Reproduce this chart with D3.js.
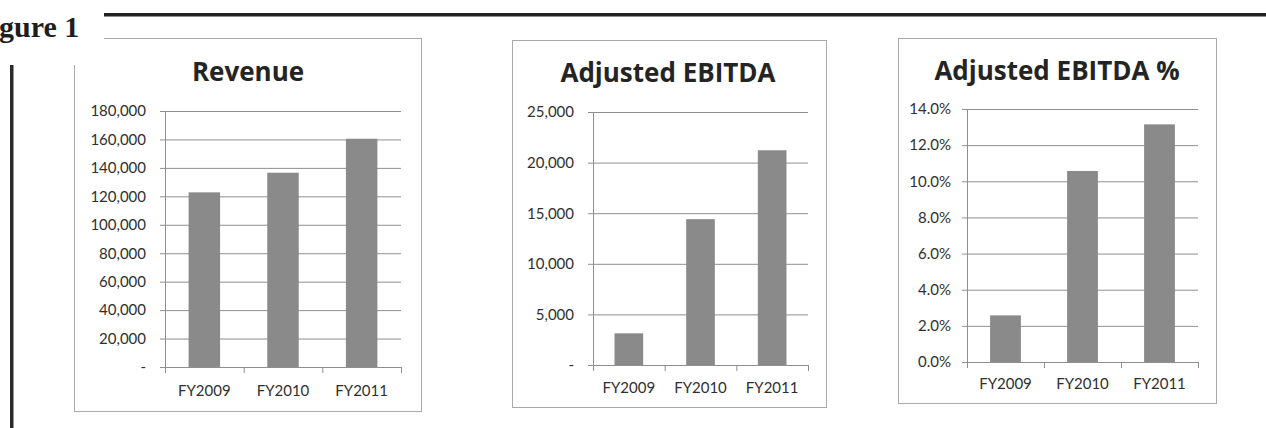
<!DOCTYPE html>
<html>
<head>
<meta charset="utf-8">
<script src="https://cdn.jsdelivr.net/npm/d3@7"></script>
<style>
  body { margin: 0; background: #fff; }
  svg { display: block; }
</style>
</head>
<body>
<svg id="fig" width="1266" height="428"></svg>
<script>
const years = ['FY2009', 'FY2010', 'FY2011'];
const revenue = [122800, 136600, 160500];
const ebitda = [3130, 14410, 21220];
const ebitdaPct = [0.0258, 0.1057, 0.1315];
const revenueTicks = [0, 20000, 40000, 60000, 80000, 100000, 120000, 140000, 160000, 180000];
const ebitdaTicks = [0, 5000, 10000, 15000, 20000, 25000];
const pctTicks = [0, 0.02, 0.04, 0.06, 0.08, 0.10, 0.12, 0.14];

const svg = d3.select('#fig');
const fmtNum = d => d === 0 ? '-' : d3.format(',')(d);
const fmtPct = d => d3.format('.1%')(d);

// page furniture
svg.append('text').text('gure 1')
  .attr('x', -1).attr('y', 37)
  .attr('font-family', '"Liberation Serif", serif')
  .attr('font-weight', 'bold').attr('font-size', 30).attr('fill', '#1e1e1e');
svg.append('rect').attr('x', 104).attr('y', 13).attr('width', 1162).attr('height', 3.5).attr('fill', '#222');
svg.append('rect').attr('x', 10).attr('y', 65).attr('width', 3.5).attr('height', 363).attr('fill', '#2a2a2a');

const charts = [
  { title: 'Revenue', values: revenue, ticks: revenueTicks, max: 180000, fmt: fmtNum, pad: 19,
    box: { x: 74, y: 38, r: 421, b: 411, topFrom: 104, leftFrom: 65 },
    plot: { x: 165, r: 401, top: 111, bottom: 367 }, titleX: 248, titleY: 81, catY: 396 },
  { title: 'Adjusted EBITDA', values: ebitda, ticks: ebitdaTicks, max: 25000, fmt: fmtNum, pad: 19,
    box: { x: 512, y: 40, r: 826, b: 407 },
    plot: { x: 593, r: 808, top: 112, bottom: 365 }, titleX: 668, titleY: 82, catY: 393 },
  { title: 'Adjusted EBITDA %', values: ebitdaPct, ticks: pctTicks, max: 0.14, fmt: fmtPct, pad: 16,
    box: { x: 898, y: 38, r: 1216, b: 403 },
    plot: { x: 967, r: 1198, top: 109, bottom: 362 }, titleX: 1057, titleY: 80, catY: 389 }
];

charts.forEach(c => {
  const g = svg.append('g');
  const bx = c.box;
  const border = '#a9a9a9';
  // frame (chart 1 is clipped at its top-left corner in the scan)
  g.append('line').attr('x1', bx.topFrom || bx.x).attr('x2', bx.r).attr('y1', bx.y + 0.5).attr('y2', bx.y + 0.5).attr('stroke', border);
  g.append('line').attr('x1', bx.r + 0.5).attr('x2', bx.r + 0.5).attr('y1', bx.y).attr('y2', bx.b).attr('stroke', border);
  g.append('line').attr('x1', bx.x).attr('x2', bx.r + 1).attr('y1', bx.b + 0.5).attr('y2', bx.b + 0.5).attr('stroke', border);
  g.append('line').attr('x1', bx.x + 0.5).attr('x2', bx.x + 0.5).attr('y1', bx.leftFrom || bx.y).attr('y2', bx.b).attr('stroke', border);

  const p = c.plot;
  const x = d3.scaleBand().domain(years).range([p.x, p.r]).paddingInner(0.6).paddingOuter(0.3);
  const y = d3.scaleLinear().domain([0, c.max]).range([p.bottom, p.top]);

  // gridlines + y labels
  const yAxis = d3.axisLeft(y).tickValues(c.ticks).tickFormat(c.fmt)
    .tickSize(-(p.r - p.x)).tickPadding(c.pad);
  const ya = g.append('g').attr('transform', `translate(${p.x},0)`).call(yAxis);
  ya.select('.domain').remove();
  ya.selectAll('.tick line').attr('x1', -5).attr('stroke', '#8f8f8f');
  ya.selectAll('.tick text')
    .attr('font-family', 'Lato, sans-serif').attr('font-size', 15).attr('fill', '#2f2f2f');
  g.append('line').attr('x1', p.x + 0.5).attr('x2', p.x + 0.5).attr('y1', p.top).attr('y2', p.bottom)
    .attr('stroke', '#8f8f8f');

  // bars
  g.selectAll('rect.bar').data(c.values).enter().append('rect').attr('class', 'bar')
    .attr('x', (d, i) => x(years[i]))
    .attr('width', x.bandwidth())
    .attr('y', d => y(d))
    .attr('height', d => y(0) - y(d))
    .attr('fill', '#8a8a8a');

  // category axis
  const step = (p.r - p.x) / years.length;
  const bounds = d3.range(years.length + 1).map(i => p.x + i * step);
  g.append('line').attr('x1', p.x).attr('x2', p.r).attr('y1', p.bottom + 0.5).attr('y2', p.bottom + 0.5).attr('stroke', '#8f8f8f');
  g.selectAll('line.ct').data(bounds).enter().append('line').attr('class', 'ct')
    .attr('x1', d => d + 0.5).attr('x2', d => d + 0.5)
    .attr('y1', p.bottom).attr('y2', p.bottom + 6).attr('stroke', '#8f8f8f');
  g.selectAll('text.cat').data(years).enter().append('text').attr('class', 'cat')
    .text(d => d)
    .attr('x', d => x(d) + x.bandwidth() / 2)
    .attr('y', c.catY)
    .attr('text-anchor', 'middle')
    .attr('font-family', 'Lato, sans-serif').attr('font-size', 15).attr('fill', '#2f2f2f');

  // title
  g.append('text').text(c.title)
    .attr('x', c.titleX).attr('y', c.titleY)
    .attr('text-anchor', 'middle')
    .attr('font-family', '"Open Sans", sans-serif').attr('font-weight', 'bold')
    .attr('font-size', 26).attr('fill', '#242424');
});
</script>
</body>
</html>
